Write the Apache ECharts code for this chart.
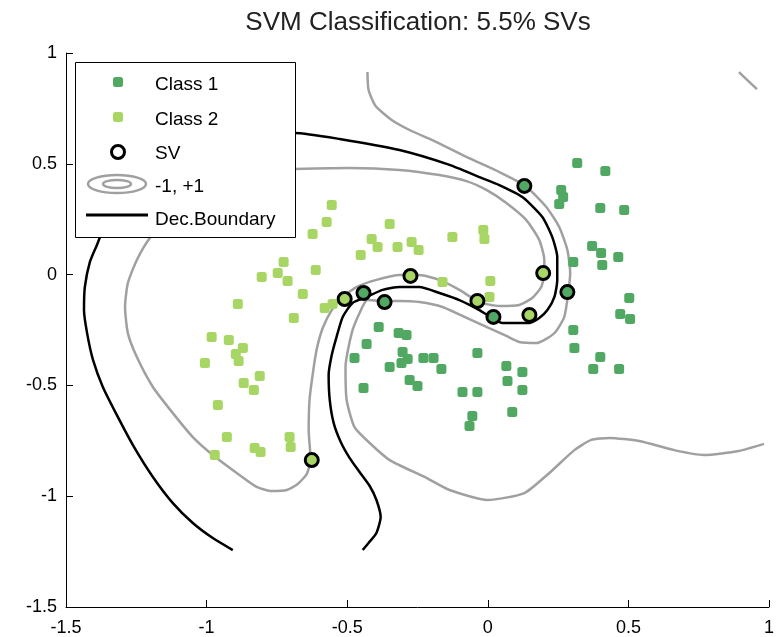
<!DOCTYPE html>
<html>
<head>
<meta charset="utf-8">
<script src="https://cdn.jsdelivr.net/npm/echarts@6/dist/echarts.min.js"></script>
<style>
  html, body { margin: 0; padding: 0; background: #fff; }
  #chart { width: 777px; height: 637px; }
</style>
</head>
<body>
<div id="chart"></div>
<script>
// Axis ticks (both axes share the same range)
const xTicks = [-1.5, -1, -0.5, 0, 0.5, 1];
const yTicks = [-1.5, -1, -0.5, 0, 0.5, 1];

// Class 1 samples (not support vectors)
const class1 = [
  [-0.388,-0.236],[-0.317,-0.264],[-0.289,-0.273],[-0.431,-0.313],[-0.474,-0.376],
  [-0.303,-0.349],[-0.285,-0.381],[-0.307,-0.399],[-0.349,-0.417],[-0.229,-0.376],
  [-0.193,-0.376],[-0.165,-0.426],[-0.278,-0.476],[-0.250,-0.503],[-0.442,-0.512],
  [-0.037,-0.354],[-0.090,-0.530],[-0.037,-0.530],[-0.055,-0.638],[-0.065,-0.683],
  [0.066,-0.412],[0.123,-0.440],[0.070,-0.480],[0.123,-0.521],[0.087,-0.620],
  [0.318,0.504],[0.418,0.468],[0.261,0.382],[0.268,0.350],[0.254,0.319],
  [0.400,0.301],[0.485,0.292],[0.371,0.129],[0.403,0.097],[0.407,0.043],
  [0.464,0.079],[0.304,0.057],[0.503,-0.106],[0.471,-0.178],[0.506,-0.200],
  [0.304,-0.250],[0.308,-0.331],[0.400,-0.372],[0.375,-0.426],[0.467,-0.426]
];
// Class 1 support vectors
const class1SV = [
  [0.130,0.400],[0.283,-0.079],[-0.442,-0.083],[-0.367,-0.124],[0.020,-0.191]
];

// Class 2 samples (not support vectors)
const class2 = [
  [-0.623,0.183],[-0.726,0.057],[-0.747,0.007],[-0.712,-0.029],[-0.804,-0.011],
  [-0.612,0.021],[-0.658,-0.088],[-0.889,-0.133],[-0.690,-0.196],[-0.982,-0.282],
  [-0.921,-0.295],[-0.871,-0.331],[-0.896,-0.358],[-0.886,-0.390],[-1.006,-0.399],
  [-0.811,-0.458],[-0.868,-0.489],[-0.832,-0.521],[-0.960,-0.588],[-0.928,-0.733],
  [-0.705,-0.733],[-0.701,-0.778],[-0.829,-0.783],[-0.808,-0.801],[-0.971,-0.814],
  [-0.555,0.314],[-0.573,0.237],[-0.349,0.228],[-0.413,0.161],[-0.392,0.125],
  [-0.321,0.125],[-0.271,0.147],[-0.246,0.111],[-0.452,0.088],[-0.126,0.170],
  [-0.016,0.201],[-0.012,0.161],[0.009,-0.029],[-0.161,-0.033],[-0.580,-0.151],
  [-0.552,-0.133],[0.006,-0.101]
];
// Class 2 support vectors
const class2SV = [
  [-0.275,-0.006],[0.197,0.007],[-0.509,-0.110],[-0.037,-0.119],[0.148,-0.182],[-0.626,-0.837]
];

// Decision boundary (f = 0)
const decisionBoundary = [
  [-0.907,-1.243],[-0.978,-1.189],[-1.049,-1.121],[-1.120,-1.031],[-1.191,-0.913],
  [-1.262,-0.769],[-1.319,-0.634],[-1.369,-0.507],[-1.404,-0.385],[-1.425,-0.264],
  [-1.436,-0.160],[-1.433,-0.056],[-1.415,0.057],[-1.390,0.134],[-1.369,0.201],
  [-1.326,0.314],[-1.255,0.436],[-1.148,0.540],[-1.006,0.607],[-0.847,0.634],
  [-0.687,0.639],[-0.527,0.612],[-0.314,0.562],[-0.136,0.495],[-0.030,0.440],
  [0.041,0.404],[0.123,0.350],[0.194,0.260],[0.229,0.170],[0.247,0.079],
  [0.247,-0.024],[0.237,-0.101],[0.212,-0.160],[0.183,-0.196],[0.148,-0.218],
  [0.087,-0.218],[0.052,-0.218],[0.016,-0.196],[-0.030,-0.160],[-0.101,-0.115],
  [-0.172,-0.083],[-0.243,-0.056],[-0.314,-0.056],[-0.374,-0.069],[-0.431,-0.101],
  [-0.481,-0.128],[-0.516,-0.191],[-0.538,-0.282],[-0.555,-0.363],[-0.566,-0.453],
  [-0.562,-0.566],[-0.548,-0.670],[-0.523,-0.755],[-0.491,-0.828],[-0.456,-0.891],
  [-0.420,-0.954],[-0.396,-1.017],[-0.381,-1.094],[-0.396,-1.166],[-0.424,-1.211],
  [-0.445,-1.243]
];

// Margin on the class 2 side (f = +1), a closed loop
const marginPlus = [
  [-0.687,0.477],[-0.491,0.481],[-0.314,0.472],[-0.172,0.449],[-0.076,0.422],
  [-0.005,0.382],[0.066,0.323],[0.137,0.246],[0.183,0.156],[0.201,0.066],
  [0.201,0.007],[0.190,-0.056],[0.158,-0.106],[0.112,-0.137],[0.041,-0.142],
  [-0.030,-0.124],[-0.101,-0.069],[-0.172,-0.024],[-0.243,-0.002],[-0.314,-0.002],
  [-0.396,-0.024],[-0.467,-0.056],[-0.516,-0.101],[-0.555,-0.160],[-0.587,-0.241],
  [-0.609,-0.340],[-0.623,-0.453],[-0.634,-0.566],[-0.637,-0.701],[-0.630,-0.837],
  [-0.644,-0.900],[-0.676,-0.945],[-0.715,-0.972],[-0.768,-0.977],[-0.822,-0.958],
  [-0.893,-0.895],[-0.978,-0.814],[-1.049,-0.733],[-1.120,-0.625],[-1.191,-0.507],
  [-1.248,-0.372],[-1.280,-0.264],[-1.290,-0.146],[-1.280,-0.038],[-1.248,0.066],
  [-1.202,0.165],[-1.138,0.255],[-1.042,0.346],[-0.918,0.418],[-0.793,0.463],
  [-0.687,0.477]
];

// Margin on the class 1 side (f = -1)
const marginMinus = [
  [-0.428,0.914],[-0.424,0.833],[-0.399,0.761],[-0.342,0.698],[-0.271,0.648],
  [-0.197,0.607],[-0.076,0.531],[0.041,0.463],[0.134,0.400],[0.208,0.305],
  [0.254,0.215],[0.283,0.111],[0.293,0.007],[0.286,-0.083],[0.272,-0.191],
  [0.237,-0.264],[0.173,-0.309],[0.112,-0.304],[0.066,-0.277],[-0.005,-0.236],
  [-0.083,-0.191],[-0.161,-0.146],[-0.243,-0.124],[-0.314,-0.119],[-0.371,-0.119],
  [-0.428,-0.115],[-0.456,-0.173],[-0.484,-0.264],[-0.506,-0.417],[-0.502,-0.566],
  [-0.474,-0.688],[-0.420,-0.760],[-0.349,-0.837],[-0.225,-0.913],[-0.136,-0.972],
  [-0.001,-1.017],[0.130,-0.986],[0.219,-0.895],[0.308,-0.792],[0.368,-0.746],
  [0.432,-0.737],[0.538,-0.751],[0.663,-0.792],[0.769,-0.814],[0.893,-0.796],
  [0.982,-0.764]
];
// Small piece of the f = -1 contour in the upper right corner
const marginMinusCorner = [[0.893,0.914],[0.957,0.837]];

const COLOR_C1 = '#51a862';
const COLOR_C2 = '#a8d665';
const COLOR_MARGIN = '#a0a0a0';
const FONT = '"Liberation Sans", Arial, Helvetica, sans-serif';

const chart = echarts.init(document.getElementById('chart'), null, { renderer: 'canvas' });

function contour(data, color) {
  return {
    type: 'line',
    data: data,
    showSymbol: false,
    symbol: 'none',
    smooth: 0.2,
    silent: true,
    z: 2,
    lineStyle: { color: color, width: 2.5 }
  };
}

function axisOf(ticks, isX) {
  return {
    type: 'value',
    min: ticks[0],
    max: ticks[ticks.length - 1],
    interval: ticks[1] - ticks[0],
    splitLine: { show: false },
    axisLine: { show: true, onZero: false, lineStyle: { color: '#000', width: 1 } },
    axisTick: { show: true, inside: true, length: 7, lineStyle: { color: '#000', width: 1 } },
    axisLabel: {
      color: '#000',
      fontSize: 18,
      fontFamily: FONT,
      margin: isX ? 12 : 9
    }
  };
}

const legendFontSize = 19;
function legendText(text, y) {
  return {
    type: 'text', z: 101, x: 155, y: y,
    style: { text: text, fill: '#000', fontSize: legendFontSize, fontFamily: FONT, verticalAlign: 'middle', align: 'left' }
  };
}

chart.setOption({
  animation: false,
  backgroundColor: '#fff',
  title: {
    text: 'SVM Classification: 5.5% SVs',
    left: 418,
    top: 10,
    padding: 0,
    textAlign: 'center',
    textStyle: { fontSize: 26, fontWeight: 'normal', color: '#222', fontFamily: FONT }
  },
  grid: { left: 66, right: 7, top: 53, bottom: 30, containLabel: false },
  xAxis: axisOf(xTicks, true),
  yAxis: axisOf(yTicks, false),
  series: [
    contour(marginPlus, COLOR_MARGIN),
    contour(marginMinus, COLOR_MARGIN),
    contour(marginMinusCorner, COLOR_MARGIN),
    contour(decisionBoundary, '#000'),
    {
      name: 'Class 1', type: 'scatter', z: 3, silent: true,
      symbol: 'roundRect', symbolSize: 10,
      itemStyle: { color: COLOR_C1, opacity: 1 },
      data: class1.concat(class1SV)
    },
    {
      name: 'Class 2', type: 'scatter', z: 3, silent: true,
      symbol: 'roundRect', symbolSize: 10,
      itemStyle: { color: COLOR_C2, opacity: 1 },
      data: class2.concat(class2SV)
    },
    {
      name: 'SV', type: 'scatter', z: 4, silent: true,
      symbol: 'circle', symbolSize: 13,
      itemStyle: { color: 'rgba(0,0,0,0)', borderColor: '#000', borderWidth: 3, opacity: 1 },
      data: class1SV.concat(class2SV)
    }
  ],
  graphic: [
    { type: 'rect', z: 100, shape: { x: 75.5, y: 62.5, width: 220, height: 175 },
      style: { fill: '#fff', stroke: '#000', lineWidth: 1 } },
    { type: 'rect', z: 101, shape: { x: 113, y: 77, width: 10, height: 10, r: 2.5 }, style: { fill: COLOR_C1 } },
    { type: 'rect', z: 101, shape: { x: 113, y: 112, width: 10, height: 10, r: 2.5 }, style: { fill: COLOR_C2 } },
    { type: 'circle', z: 101, shape: { cx: 118, cy: 152, r: 6.5 },
      style: { fill: 'none', stroke: '#000', lineWidth: 3 } },
    { type: 'ellipse', z: 101, shape: { cx: 117, cy: 184, rx: 29, ry: 9 },
      style: { fill: 'none', stroke: COLOR_MARGIN, lineWidth: 2.5 } },
    { type: 'ellipse', z: 101, shape: { cx: 117, cy: 184, rx: 14, ry: 4 },
      style: { fill: 'none', stroke: COLOR_MARGIN, lineWidth: 2.5 } },
    { type: 'line', z: 101, shape: { x1: 86, y1: 215, x2: 148, y2: 215 },
      style: { stroke: '#000', lineWidth: 3 } },
    legendText('Class 1', 85),
    legendText('Class 2', 120),
    legendText('SV', 154),
    legendText('-1, +1', 187),
    legendText('Dec.Boundary', 220)
  ]
});
</script>
</body>
</html>
